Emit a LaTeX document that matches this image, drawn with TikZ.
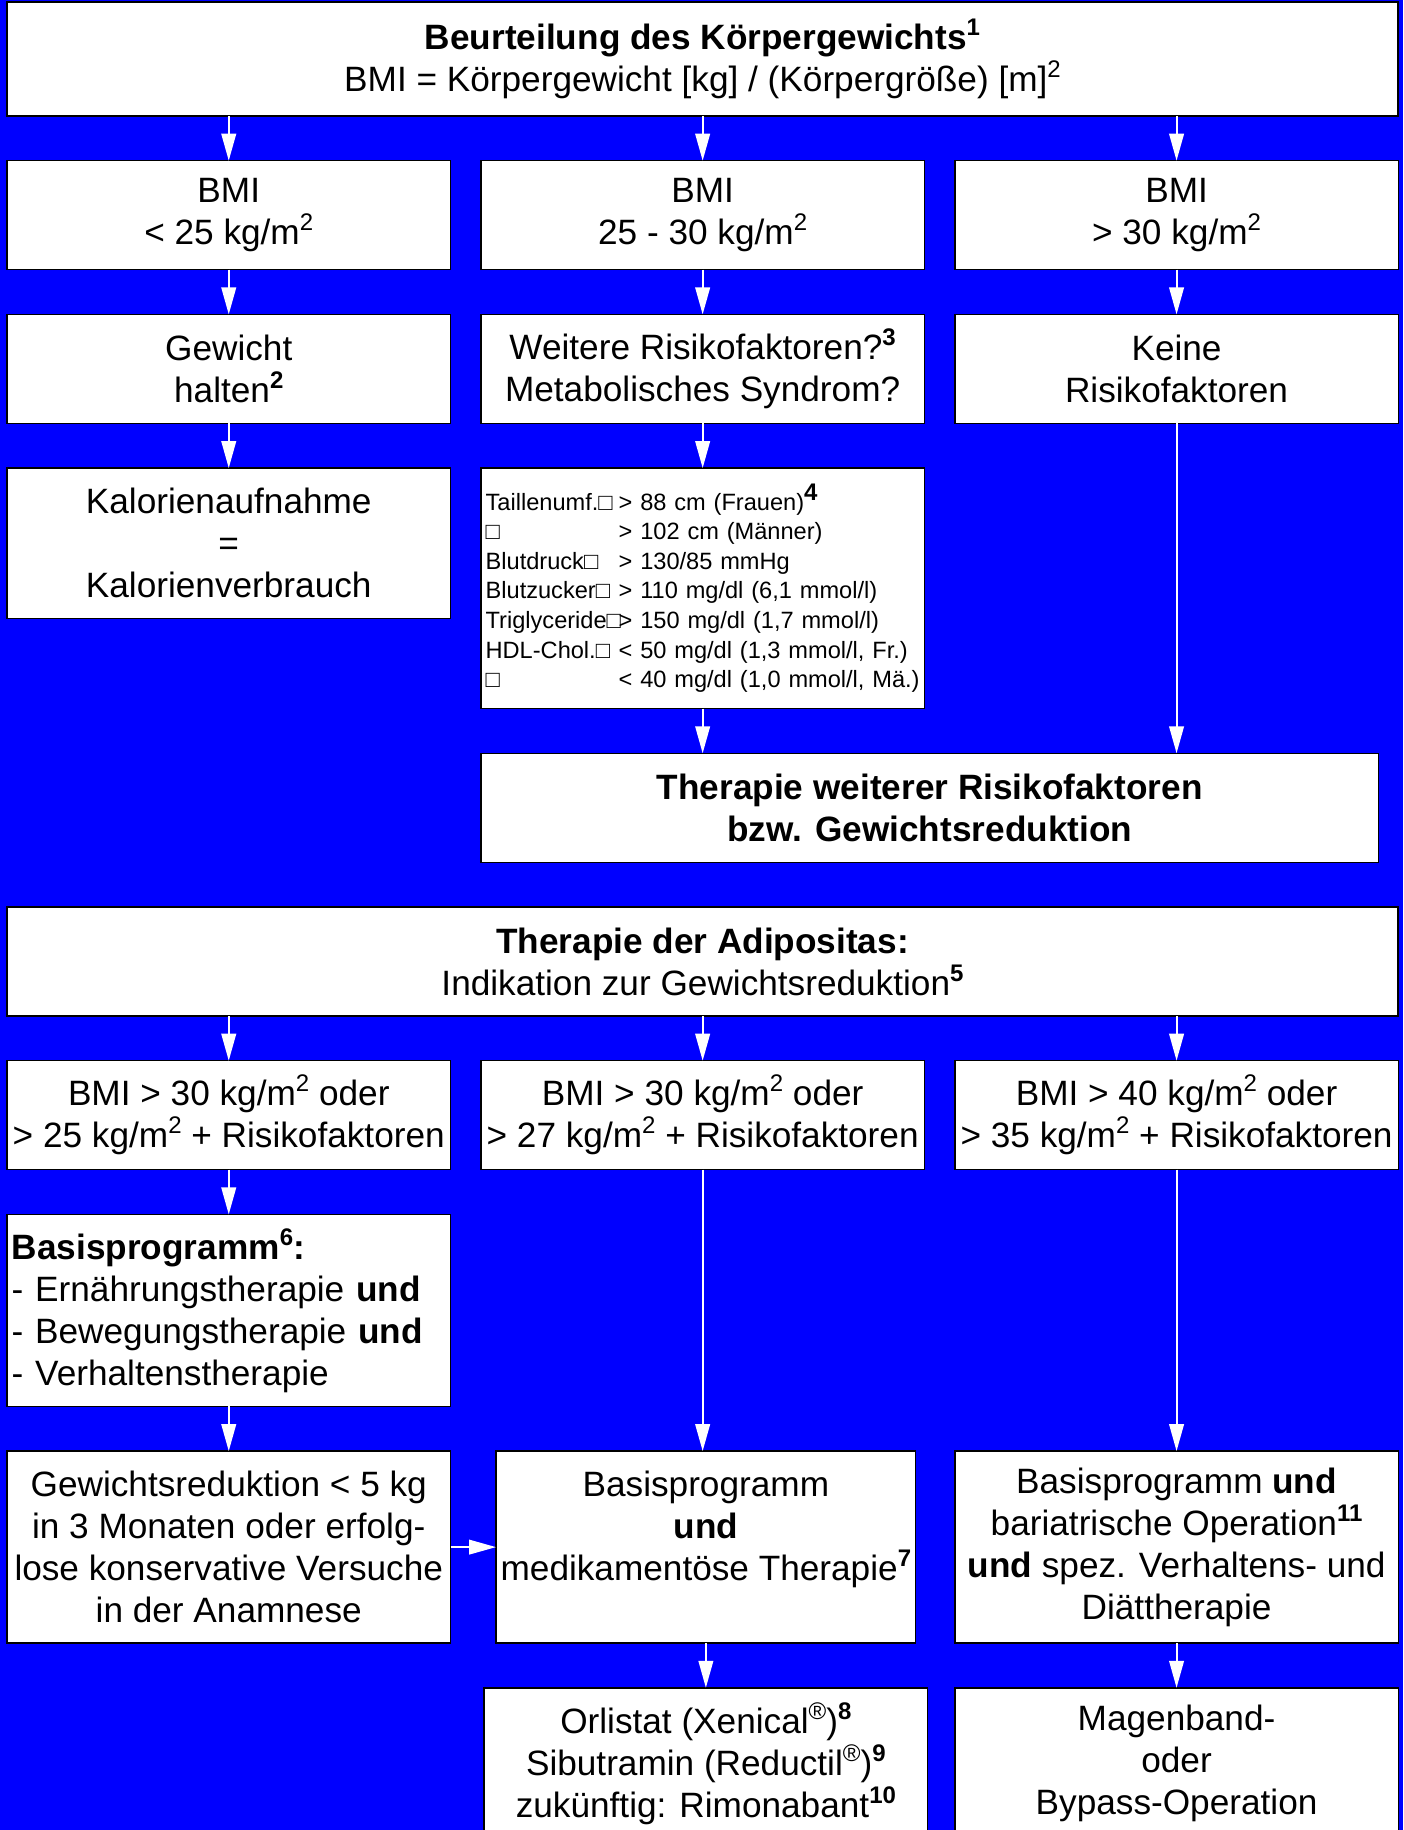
\documentclass[tikz,border=0pt]{standalone}
\usepackage{fontspec}
\setmainfont{Liberation Sans}
\usetikzlibrary{positioning, arrows.meta}
\definecolor{hgblau}{RGB}{0,0,255}
\newcommand\fn[1]{\raisebox{0.75ex}{\fontsize{12}{12}\selectfont\bfseries #1}}
\newcommand\hoch[1]{\raisebox{0.75ex}{\fontsize{12}{12}\selectfont #1}}
\newcommand\zeile[2]{\mbox{\makebox[66.5pt][l]{#1}#2}}

\begin{document}
\begin{tikzpicture}[font=\fontsize{17.6}{21}\selectfont, node distance=22.35pt and 15.2pt,
    kasten/.style={draw, fill=white, line width=0.75pt, align=center, inner sep=2.3pt, outer sep=0pt,
      minimum width=221.75pt, minimum height=54.5pt},
    breit/.style={kasten, minimum width=695.5pt},
    hoch4/.style={minimum height=96pt},
    pfeil/.style={draw=white, line width=1pt, -{Triangle[length=13.5pt, width=7.3pt]}}]
  \useasboundingbox (0,0) rectangle (701.5pt,-915pt);
  \fill[hgblau] (0,0) rectangle (701.5pt,-915pt);

  \node[breit, minimum height=57pt, anchor=north west] (bewertung) at (3.5pt,-1pt)
    {\textbf{Beurteilung des Körpergewichts\fn{1}}\\BMI = Körpergewicht [kg] / (Körpergröße) [m]\hoch{2}};
  \node[kasten, below=of bewertung.south west, anchor=north west] (bmiA) {BMI\\< 25 kg/m\hoch{2}};
  \node[kasten, right=of bmiA] (bmiB) {BMI\\25 - 30 kg/m\hoch{2}};
  \node[kasten, right=of bmiB] (bmiC) {BMI\\> 30 kg/m\hoch{2}};
  \node[kasten, below=of bmiA] (halten) {Gewicht\\halten\fn{2}};
  \node[kasten, below=of bmiB] (risiko) {Weitere Risikofaktoren?\fn{3}\\Metabolisches Syndrom?};
  \node[kasten, below=of bmiC] (keine) {Keine\\Risikofaktoren};
  \node[kasten, minimum height=75.3pt, below=of halten] (kalorien) {Kalorienaufnahme\\=\\Kalorienverbrauch};
  \node[kasten, below=of risiko, minimum height=120.25pt, text width=217pt, align=left,
    font=\fontsize{11.8}{14.8}\selectfont] (kriterien)
    {\zeile{Taillenumf.□}{> 88 cm (Frauen)\fn{4}}\\
     \zeile{□}{> 102 cm (Männer)}\\
     \zeile{Blutdruck□}{> 130/85 mmHg}\\
     \zeile{Blutzucker□}{> 110 mg/dl (6,1 mmol/l)}\\
     \zeile{Triglyceride□}{> 150 mg/dl (1,7 mmol/l)}\\
     \zeile{HDL-Chol.□}{< 50 mg/dl (1,3 mmol/l, Fr.)}\\
     \zeile{□}{< 40 mg/dl (1,0 mmol/l, Mä.)}};
  \node[kasten, minimum width=448.8pt, below=of kriterien.south west, anchor=north west] (weitere)
    {\textbf{Therapie weiterer Risikofaktoren}\\\textbf{bzw. Gewichtsreduktion}};

  \node[breit, anchor=north] (adipositas) at ([yshift=-22.35pt]weitere.south -| bewertung.south)
    {\textbf{Therapie der Adipositas:}\\Indikation zur Gewichtsreduktion\fn{5}};
  \node[kasten, below=of adipositas.south west, anchor=north west] (bmiD)
    {BMI > 30 kg/m\hoch{2} oder\\> 25 kg/m\hoch{2} + Risikofaktoren};
  \node[kasten, right=of bmiD] (bmiE) {BMI > 30 kg/m\hoch{2} oder\\> 27 kg/m\hoch{2} + Risikofaktoren};
  \node[kasten, right=of bmiE] (bmiF) {BMI > 40 kg/m\hoch{2} oder\\> 35 kg/m\hoch{2} + Risikofaktoren};
  \node[kasten, hoch4, below=of bmiD, text width=217pt, align=left] (basis)
    {\textbf{Basisprogramm\fn{6}:}\\- Ernährungstherapie \textbf{und}\\- Bewegungstherapie \textbf{und}\\- Verhaltenstherapie};
  \node[kasten, hoch4, below=of basis] (gewred)
    {Gewichtsreduktion < 5 kg\\in 3 Monaten oder erfolg-\\lose konservative Versuche\\in der Anamnese};
  \node[kasten, hoch4, minimum width=207.8pt, right=22.75pt of gewred] (medik)
    {Basisprogramm\\\textbf{und}\\medikamentöse Therapie\fn{7}\\\mbox{}};
  \node[kasten, hoch4] (bariatrie) at (bmiF |- gewred)
    {Basisprogramm \textbf{und}\\bariatrische Operation\fn{11}\\\textbf{und} spez. Verhaltens- und\\Diättherapie};
  \node[kasten, minimum height=76pt, below=of medik] (orlistat)
    {Orlistat (Xenical\hoch{®})\fn{8}\\Sibutramin (Reductil\hoch{®})\fn{9}\\zukünftig: Rimonabant\fn{10}};
  \node[kasten, minimum height=76pt, below=of bariatrie] (magen) {Magenband-\\oder\\Bypass-Operation};

  \foreach \z in {bmiA, bmiB, bmiC} \draw[pfeil] (bewertung.south -| \z) -- (\z);
  \draw[pfeil] (bmiA) -- (halten);
  \draw[pfeil] (bmiB) -- (risiko);
  \draw[pfeil] (bmiC) -- (keine);
  \draw[pfeil] (halten) -- (kalorien);
  \draw[pfeil] (risiko) -- (kriterien);
  \draw[pfeil] (kriterien) -- (kriterien |- weitere.north);
  \draw[pfeil] (keine) -- (keine |- weitere.north);
  \foreach \z in {bmiD, bmiE, bmiF} \draw[pfeil] (adipositas.south -| \z) -- (\z);
  \draw[pfeil] (bmiD) -- (basis);
  \draw[pfeil] (basis) -- (gewred);
  \draw[pfeil] (gewred) -- (medik);
  \draw[pfeil] (bmiE) -- (bmiE |- medik.north);
  \draw[pfeil] (bmiF) -- (bariatrie);
  \draw[pfeil] (medik) -- (orlistat);
  \draw[pfeil] (bariatrie) -- (magen);
\end{tikzpicture}
\end{document}
